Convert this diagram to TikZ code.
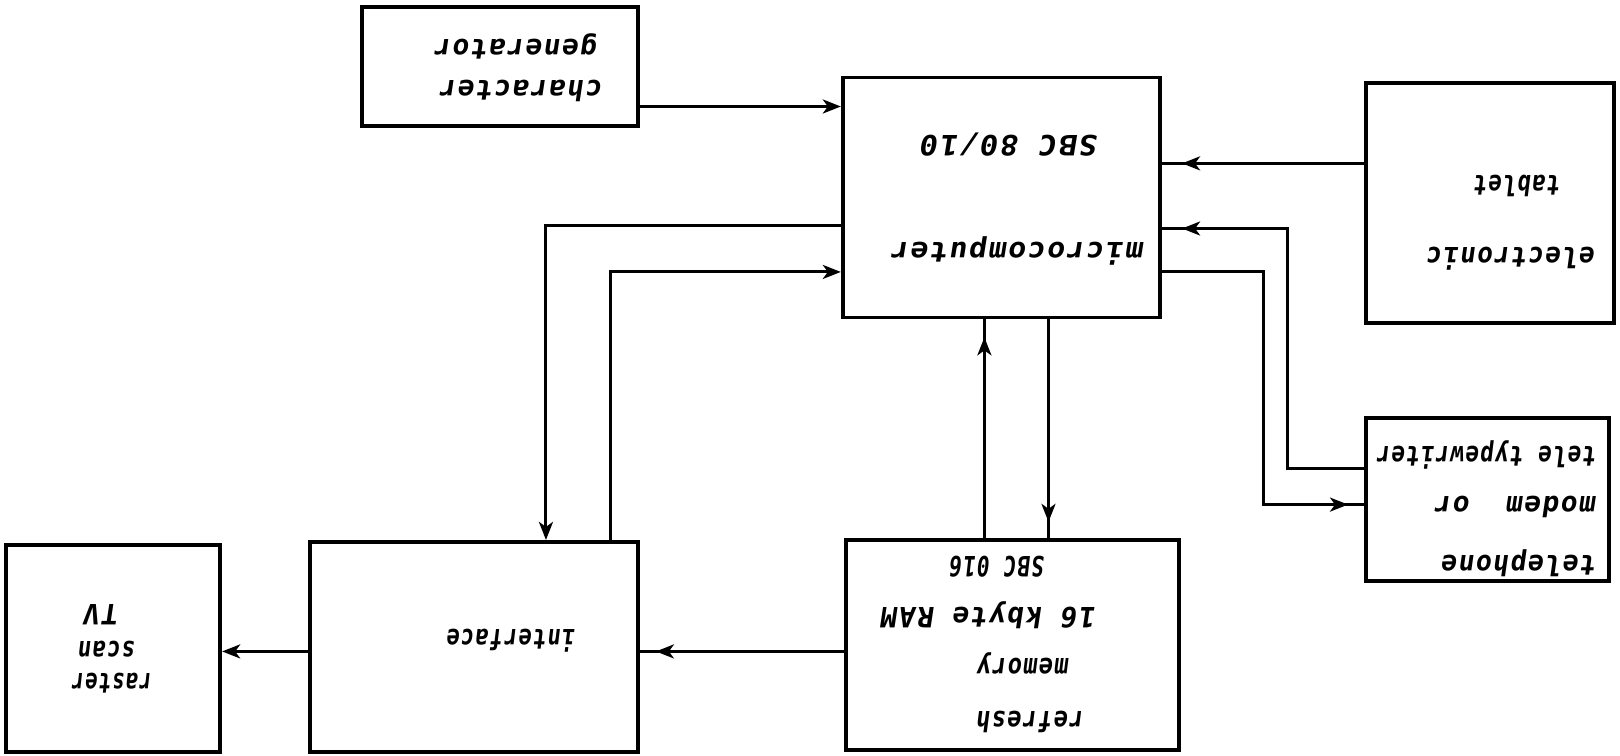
\documentclass[tikz,border=0pt]{standalone}
\usepackage{fontspec}
\usepackage{graphicx}
\newfontfamily\hand{DejaVu Sans Mono}[FakeSlant=0.15,LetterSpace=5]
\usetikzlibrary{arrows.meta,decorations.markings,fit}
\newcommand\sq[2]{\scalebox{#1}[1]{#2}}
\tikzset{
  tip/.tip={Stealth[length=9pt,width=7pt,inset=2.5pt]},
  box/.style={draw,line width=1.9pt,inner sep=0pt},
  wire/.style={line width=1.5pt,-tip},
  midwire/.style={line width=1.5pt,postaction={decorate},
    decoration={markings,mark=at position #1 with {\arrow{tip}}}},
  txt/.style={rotate=180,inner sep=0pt,font=\hand\bfseries\fontsize{14}{14}\selectfont}}
\begin{document}
\begin{tikzpicture}[x=0.517pt,y=-0.517pt]
\useasboundingbox[fill=white] (0,0) rectangle (1566.7,730.2);
% boxes
\node[box,fit={(350,7) (617,122)}] (cg) {};
\node[box,fit={(815,75) (1122,307)}] (mc) {};
\node[box,fit={(1321,80) (1561,312)}] (tab) {};
\node[box,fit={(1321,404) (1556,562)}] (tel) {};
\node[box,fit={(300,524) (617,727)}] (intf) {};
\node[box,fit={(6,527) (213,727)}] (tv) {};
\node[box,fit={(818,522) (1140,725)}] (mem) {};
% texts (the drawing is upside down)
\node[txt] (cgt1) at (505,88) {character};
\node[txt] (cgt2) at (500,45) {generator};
\node[txt] (mct1) at (977,140) {\sq{1.1}{SBC 80/10}};
\node[txt] (mct2) at (985,243) {\sq{1.07}{microcomputer}};
\node[txt] (tabt1) at (1468,180) {\sq{0.8}{tablet}};
\node[txt] (tabt2) at (1462,250) {\sq{0.93}{electronic}};
\node[txt,anchor=west] (telt1) at (1545,545) {\sq{0.95}{telephone}};
\node[txt,anchor=west] (telt2) at (1545,490) {modem\ \ or};
\node[txt,anchor=west] (telt3) at (1545,440) {\sq{0.81}{tele typewriter}};
\node[txt] (memt1) at (997,698) {\sq{0.85}{refresh}};
\node[txt] (memt2) at (990,642) {\sq{0.85}{memory}};
\node[txt] (memt3) at (957,595) {16 kbyte RAM};
\node[txt] (memt4) at (965,548) {\sq{0.76}{SBC 016}};
\node[txt] (intft) at (495,620) {\sq{0.79}{interface}};
\node[txt] (tvt1) at (109,661) {\sq{0.74}{raster}};
\node[txt] (tvt2) at (104,628) {\sq{0.8}{scan}};
\node[txt] (tvt3) at (99,594) {TV};
% connectors
\draw[wire] (cg.east |- 0,103) -- (mc.west |- 0,103);
\draw[midwire=-10pt] (tab.west |- 0,158) -- (mc.east |- 0,158);
\draw[midwire=-10pt] (tel.west |- 0,453) -- (1245,453) -- (1245,221) -- (mc.east |- 0,221);
\draw[midwire=-8pt] (mc.east |- 0,263) -- (1222,263) -- (1222,488) -- (tel.west |- 0,488);
\draw[wire] (mc.west |- 0,218) -- (528,218) -- (intf.north -| 528,0);
\draw[wire] (intf.north -| 590,0) -- (590,263) -- (mc.west |- 0,263);
\draw[wire] (intf.west |- 0,630) -- (tv.east |- 0,630);
\draw[midwire=-8pt] (mem.west |- 0,630) -- (intf.east |- 0,630);
\draw[midwire=-9pt] (mem.north -| 952,0) -- (mc.south -| 952,0);
\draw[midwire=-8pt] (mc.south -| 1014,0) -- (mem.north -| 1014,0);
\end{tikzpicture}
\end{document}
